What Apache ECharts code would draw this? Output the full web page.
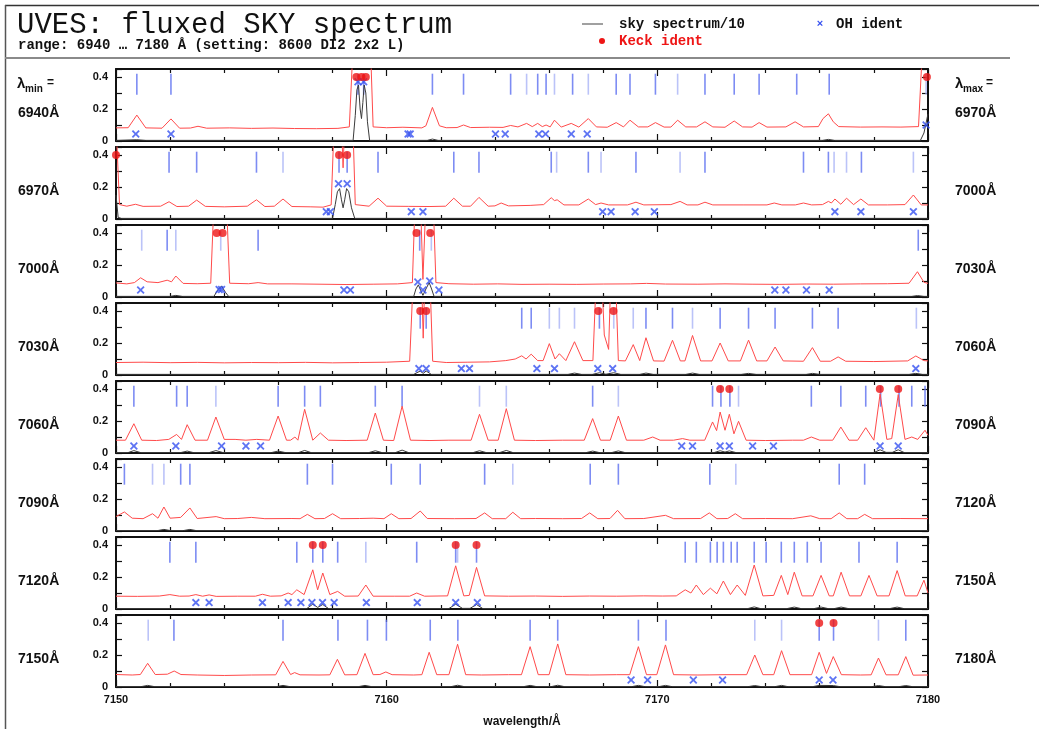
<!DOCTYPE html>
<html><head><meta charset="utf-8">
<script src="https://cdn.jsdelivr.net/npm/echarts@6/dist/echarts.min.js"></script>
<style>html,body{margin:0;padding:0;background:#fff}#c{width:1039px;height:729px}</style>
</head><body><div id="c"></div>
<script>
// ---------- data ----------
const lambdaMins = [6940, 6970, 7000, 7030, 7060, 7090, 7120, 7150];
const bottomTickLabels = [7150, 7160, 7170, 7180];
const yTickLabels = ['0', '0.2', '0.4'];

// panel 6940-6970
const red_6940 = [[6940.0,0.082],[6940.45,0.083],[6940.77,0.162],[6941.1,0.082],[6941.7,0.080],[6942.03,0.138],[6942.35,0.080],[6942.75,0.081],[6943.03,0.092],[6943.35,0.080],[6944.2,0.082],[6945.0,0.079],[6945.8,0.081],[6946.6,0.078],[6947.4,0.077],[6948.2,0.079],[6948.62,0.088],[6948.76,0.6],[6949.4,0.6],[6949.5,0.088],[6950.0,0.083],[6950.6,0.086],[6951.3,0.082],[6951.45,0.095],[6951.69,0.21],[6951.95,0.095],[6952.2,0.083],[6952.6,0.084],[6952.84,0.10],[6953.1,0.084],[6953.8,0.086],[6954.3,0.085],[6954.58,0.097],[6954.85,0.088],[6955.17,0.11],[6955.38,0.09],[6955.58,0.11],[6955.75,0.09],[6955.89,0.10],[6956.04,0.088],[6956.2,0.13],[6956.45,0.087],[6956.82,0.11],[6957.1,0.087],[6957.45,0.14],[6957.75,0.088],[6958.15,0.086],[6958.48,0.115],[6958.75,0.088],[6958.99,0.13],[6959.3,0.088],[6959.65,0.088],[6959.93,0.115],[6960.25,0.087],[6960.5,0.087],[6960.75,0.13],[6961.05,0.088],[6961.45,0.088],[6961.76,0.12],[6962.05,0.088],[6962.5,0.086],[6962.84,0.125],[6963.15,0.088],[6963.5,0.087],[6963.76,0.115],[6964.05,0.087],[6964.75,0.088],[6965.09,0.12],[6965.4,0.088],[6965.95,0.09],[6966.12,0.14],[6966.32,0.17],[6966.5,0.12],[6966.7,0.09],[6967.5,0.087],[6968.3,0.088],[6969.0,0.087],[6969.65,0.09],[6969.8,0.6],[6970.0,0.6]];
const black_6940 = [[6940.0,0.004],[6940.77,0.008],[6941.1,0.004],[6948.76,0.004],[6948.84,0.16],[6948.9,0.32],[6948.96,0.35],[6949.02,0.2],[6949.07,0.14],[6949.12,0.24],[6949.17,0.35],[6949.23,0.3],[6949.29,0.12],[6949.37,0.004],[6951.5,0.004],[6951.69,0.012],[6951.9,0.004],[6966.1,0.004],[6966.32,0.01],[6966.55,0.004],[6969.72,0.004],[6969.85,0.05],[6970.0,0.17]];
const ticksDark_6940 = [6940.77,6942.03,6948.94,6949.15,6951.69,6952.84,6954.58,6955.58,6955.89,6956.87,6958.48,6958.99,6959.93,6961.76,6962.84,6963.76,6965.15,6966.35];
const ticksLight_6940 = [6955.17,6956.2,6957.45,6960.75,6969.93];
const oh_6940 = [[6940.73,0.044],[6942.03,0.044],[6948.94,0.37],[6949.15,0.37],[6950.79,0.044],[6950.87,0.044],[6954.02,0.044],[6954.38,0.044],[6955.62,0.044],[6955.87,0.044],[6956.82,0.044],[6957.41,0.044],[6969.93,0.1]];
const keck_6940 = [6948.88,6949.07,6949.23,6969.96];

// panel 6970-7000
const red_6970 = [[6970.0,0.6],[6970.07,0.6],[6970.13,0.09],[6970.4,0.08],[6970.72,0.092],[6971.0,0.079],[6971.65,0.08],[6971.96,0.108],[6972.25,0.078],[6972.68,0.08],[6972.98,0.118],[6973.3,0.079],[6974.0,0.076],[6974.85,0.08],[6975.19,0.12],[6975.5,0.078],[6975.85,0.08],[6976.17,0.125],[6976.5,0.078],[6977.2,0.076],[6977.65,0.074],[6977.95,0.088],[6978.06,0.6],[6978.33,0.6],[6978.39,0.32],[6978.45,0.6],[6978.75,0.6],[6978.84,0.09],[6979.35,0.08],[6979.68,0.13],[6980.0,0.08],[6980.8,0.079],[6981.6,0.078],[6982.18,0.08],[6982.48,0.13],[6982.8,0.08],[6983.1,0.08],[6983.41,0.135],[6983.75,0.08],[6984.0,0.082],[6984.23,0.1],[6984.5,0.082],[6985.3,0.085],[6985.8,0.09],[6986.08,0.133],[6986.2,0.115],[6986.3,0.12],[6986.55,0.088],[6987.1,0.088],[6987.45,0.125],[6987.72,0.09],[6987.92,0.1],[6988.2,0.088],[6988.9,0.088],[6989.21,0.105],[6989.5,0.088],[6990.5,0.09],[6990.84,0.11],[6991.1,0.088],[6991.5,0.088],[6991.76,0.105],[6992.05,0.088],[6993.2,0.088],[6994.05,0.088],[6994.32,0.1],[6994.6,0.088],[6995.1,0.088],[6995.4,0.1],[6995.7,0.088],[6996.1,0.09],[6996.32,0.11],[6996.43,0.1],[6996.56,0.125],[6996.78,0.092],[6996.99,0.13],[6997.25,0.09],[6997.52,0.125],[6997.8,0.088],[6998.5,0.088],[6999.15,0.09],[6999.46,0.15],[6999.75,0.088],[7000.0,0.088]];
const black_6970 = [[6970.0,0.15],[6970.08,0.01],[6970.2,0.004],[6978.0,0.004],[6978.1,0.09],[6978.18,0.17],[6978.26,0.19],[6978.33,0.12],[6978.39,0.07],[6978.45,0.12],[6978.52,0.19],[6978.6,0.17],[6978.7,0.07],[6978.82,0.004],[7000.0,0.004]];
const ticksDark_6970 = [6971.96,6972.98,6975.19,6978.24,6978.54,6979.68,6982.48,6983.41,6986.08,6987.45,6989.21,6991.76,6995.4,6996.32,6997.54];
const ticksLight_6970 = [6976.17,6986.28,6987.92,6990.84,6996.53,6996.99,6999.46];
const oh_6970 = [[6977.77,0.046],[6977.92,0.046],[6978.22,0.22],[6978.54,0.22],[6980.91,0.046],[6981.34,0.046],[6987.98,0.046],[6988.29,0.046],[6989.18,0.046],[6989.89,0.046],[6996.56,0.046],[6997.52,0.046],[6999.46,0.046]];
const keck_6970 = [6970.0,6978.24,6978.54];

// panel 7000-7030
const red_7000 = [[7000.0,0.088],[7000.4,0.082],[7000.68,0.09],[7000.91,0.12],[7001.15,0.095],[7001.55,0.09],[7001.89,0.105],[7002.05,0.095],[7002.21,0.131],[7002.48,0.085],[7003.0,0.083],[7003.5,0.086],[7003.62,0.6],[7004.08,0.6],[7004.2,0.086],[7004.9,0.083],[7005.25,0.09],[7005.6,0.082],[7006.5,0.082],[7007.5,0.08],[7008.5,0.078],[7009.5,0.08],[7010.4,0.082],[7010.95,0.09],[7011.05,0.6],[7011.25,0.6],[7011.34,0.11],[7011.45,0.6],[7011.72,0.6],[7011.82,0.09],[7012.3,0.083],[7013.2,0.08],[7014.1,0.082],[7015.0,0.079],[7016.0,0.08],[7017.0,0.079],[7018.0,0.081],[7019.0,0.082],[7019.6,0.085],[7020.3,0.081],[7021.5,0.08],[7022.5,0.082],[7023.5,0.08],[7024.5,0.079],[7025.5,0.081],[7026.5,0.08],[7027.5,0.082],[7028.5,0.083],[7029.3,0.086],[7029.61,0.158],[7029.85,0.092],[7030.0,0.085]];
const black_7000 = [[7000.0,0.004],[7002.0,0.004],[7002.21,0.01],[7002.45,0.004],[7003.62,0.004],[7003.76,0.045],[7003.9,0.069],[7004.04,0.03],[7004.16,0.004],[7011.0,0.004],[7011.08,0.05],[7011.17,0.076],[7011.26,0.04],[7011.34,0.01],[7011.45,0.05],[7011.57,0.09],[7011.66,0.05],[7011.75,0.004],[7029.4,0.004],[7029.61,0.009],[7029.85,0.004],[7030.0,0.004]];
const ticksDark_7000 = [7001.89,7005.25,7011.22,7029.64];
const ticksLight_7000 = [7000.95,7002.21,7003.87,7011.65];
const oh_7000 = [[7000.91,0.044],[7003.81,0.047],[7003.9,0.047],[7008.42,0.044],[7008.66,0.044],[7011.15,0.094],[7011.34,0.044],[7011.59,0.1],[7011.93,0.044],[7024.34,0.044],[7024.75,0.044],[7025.51,0.044],[7026.35,0.044]];
const keck_7000 = [7003.72,7003.94,7011.1,7011.61];

// panel 7030-7060
const red_7030 = [[7030.0,0.078],[7031.0,0.08],[7032.0,0.077],[7033.0,0.079],[7034.0,0.076],[7035.0,0.078],[7036.0,0.077],[7037.0,0.079],[7038.0,0.076],[7039.0,0.078],[7040.0,0.08],[7040.85,0.086],[7040.98,0.6],[7041.29,0.6],[7041.35,0.23],[7041.41,0.6],[7041.6,0.6],[7041.7,0.086],[7042.2,0.078],[7043.0,0.08],[7043.8,0.082],[7044.4,0.09],[7044.75,0.1],[7044.99,0.12],[7045.15,0.1],[7045.34,0.13],[7045.58,0.09],[7045.78,0.09],[7046.01,0.196],[7046.22,0.1],[7046.38,0.133],[7046.62,0.09],[7046.94,0.208],[7047.25,0.09],[7047.62,0.09],[7047.74,0.6],[7047.95,0.6],[7048.04,0.25],[7048.2,0.16],[7048.28,0.6],[7048.46,0.6],[7048.56,0.09],[7048.82,0.088],[7049.11,0.19],[7049.35,0.09],[7049.58,0.233],[7049.86,0.088],[7050.25,0.087],[7050.56,0.217],[7050.85,0.088],[7051.02,0.088],[7051.3,0.247],[7051.6,0.088],[7052.02,0.088],[7052.32,0.2],[7052.62,0.088],[7053.07,0.088],[7053.37,0.218],[7053.67,0.088],[7054.05,0.088],[7054.35,0.175],[7054.65,0.088],[7055.4,0.086],[7055.73,0.171],[7056.02,0.086],[7056.4,0.086],[7056.68,0.113],[7056.96,0.086],[7058.0,0.084],[7059.25,0.088],[7059.55,0.119],[7059.85,0.09],[7060.0,0.088]];
const black_7030 = [[7030.0,0.004],[7041.0,0.004],[7041.24,0.025],[7041.35,0.01],[7041.46,0.025],[7041.65,0.004],[7046.7,0.004],[7046.94,0.012],[7047.2,0.004],[7047.6,0.004],[7047.86,0.014],[7048.1,0.005],[7048.39,0.014],[7048.65,0.004],[7049.35,0.004],[7049.58,0.012],[7049.85,0.004],[7051.05,0.004],[7051.3,0.012],[7051.55,0.004],[7053.1,0.004],[7053.37,0.01],[7053.65,0.004],[7055.5,0.004],[7055.73,0.01],[7056.0,0.004],[7059.3,0.004],[7059.55,0.01],[7059.8,0.004],[7060.0,0.004]];
const ticksDark_7030 = [7041.24,7041.46,7044.99,7045.34,7047.86,7049.58,7050.56,7052.32,7053.37,7054.35,7055.73,7056.68];
const ticksLight_7030 = [7046.01,7046.38,7046.94,7048.39,7049.11,7051.3,7059.57];
const oh_7030 = [[7041.19,0.04],[7041.46,0.04],[7042.76,0.04],[7043.06,0.04],[7045.55,0.04],[7046.2,0.04],[7047.8,0.04],[7048.35,0.04],[7059.55,0.04]];
const keck_7030 = [7041.24,7041.46,7047.82,7048.38];

// panel 7060-7090
const red_7060 = [[7060.0,0.08],[7060.35,0.08],[7060.66,0.183],[7060.95,0.08],[7061.5,0.078],[7061.95,0.085],[7062.24,0.116],[7062.42,0.085],[7062.63,0.177],[7062.92,0.08],[7063.38,0.08],[7063.69,0.225],[7064.0,0.085],[7064.4,0.085],[7064.8,0.08],[7065.2,0.085],[7065.67,0.08],[7065.99,0.231],[7066.3,0.08],[7066.45,0.08],[7066.61,0.1],[7066.72,0.08],[7066.97,0.273],[7067.27,0.08],[7067.55,0.125],[7067.85,0.08],[7068.5,0.078],[7069.28,0.08],[7069.58,0.25],[7069.88,0.08],[7070.26,0.078],[7070.57,0.292],[7070.88,0.08],[7071.6,0.078],[7072.3,0.08],[7073.12,0.08],[7073.43,0.242],[7073.75,0.08],[7074.12,0.08],[7074.42,0.277],[7074.72,0.08],[7075.5,0.078],[7076.5,0.08],[7077.3,0.08],[7077.61,0.215],[7077.9,0.08],[7078.26,0.08],[7078.56,0.231],[7078.86,0.08],[7079.5,0.08],[7079.83,0.1],[7080.1,0.08],[7080.6,0.08],[7080.93,0.09],[7081.2,0.08],[7081.75,0.08],[7082.04,0.194],[7082.19,0.14],[7082.32,0.256],[7082.5,0.142],[7082.66,0.242],[7082.83,0.12],[7083.0,0.198],[7083.28,0.08],[7084.0,0.078],[7085.0,0.08],[7085.4,0.08],[7085.69,0.1],[7086.0,0.08],[7086.48,0.08],[7086.78,0.162],[7087.08,0.08],[7087.4,0.08],[7087.7,0.158],[7088.0,0.08],[7088.23,0.37],[7088.48,0.085],[7088.66,0.09],[7088.9,0.365],[7089.15,0.085],[7089.4,0.1],[7089.62,0.085],[7089.89,0.142],[7090.0,0.11]];
const black_7060 = [[7060.0,0.003],[7060.45,0.003],[7060.66,0.015],[7060.9,0.003],[7062.4,0.003],[7062.63,0.012],[7062.85,0.003],[7063.45,0.003],[7063.69,0.015],[7063.95,0.003],[7065.75,0.003],[7065.99,0.012],[7066.25,0.003],[7066.75,0.003],[7066.97,0.016],[7067.2,0.003],[7069.35,0.003],[7069.58,0.014],[7069.82,0.003],[7070.33,0.003],[7070.57,0.018],[7070.8,0.003],[7073.2,0.003],[7073.43,0.014],[7073.67,0.003],[7074.18,0.003],[7074.42,0.016],[7074.66,0.003],[7077.38,0.003],[7077.61,0.012],[7077.85,0.003],[7078.32,0.003],[7078.56,0.013],[7078.8,0.003],[7082.1,0.003],[7082.32,0.014],[7082.5,0.006],[7082.66,0.013],[7082.9,0.003],[7088.0,0.003],[7088.23,0.02],[7088.45,0.004],[7088.68,0.004],[7088.9,0.02],[7089.12,0.003],[7090.0,0.003]];
const ticksDark_7060 = [7060.66,7062.24,7062.63,7065.99,7066.97,7067.55,7069.58,7070.57,7077.61,7082.04,7082.35,7082.68,7085.69,7086.78,7087.7,7088.25,7088.93,7089.4,7089.89];
const ticksLight_7060 = [7063.69,7073.43,7074.42,7078.56,7083.0];
const oh_7060 = [[7060.66,0.044],[7062.21,0.044],[7063.9,0.044],[7064.8,0.044],[7065.34,0.044],[7080.9,0.044],[7081.3,0.044],[7082.32,0.044],[7082.66,0.044],[7083.52,0.044],[7084.29,0.044],[7088.23,0.044],[7088.9,0.044]];
const keck_7060 = [7082.32,7082.66,7088.22,7088.9];

// panel 7090-7120
const red_7090 = [[7090.0,0.09],[7090.31,0.119],[7090.6,0.08],[7091.0,0.077],[7091.35,0.108],[7091.55,0.08],[7091.77,0.15],[7092.0,0.08],[7092.39,0.085],[7092.73,0.144],[7093.0,0.078],[7093.7,0.09],[7094.0,0.077],[7094.5,0.078],[7095.0,0.085],[7095.5,0.077],[7096.5,0.078],[7096.8,0.077],[7097.07,0.104],[7097.35,0.077],[7097.7,0.078],[7098.0,0.108],[7098.3,0.077],[7099.0,0.078],[7099.5,0.08],[7099.9,0.077],[7100.17,0.108],[7100.45,0.077],[7100.9,0.078],[7101.24,0.125],[7101.5,0.078],[7102.5,0.077],[7103.3,0.078],[7103.62,0.113],[7103.9,0.077],[7104.4,0.077],[7104.66,0.117],[7104.95,0.077],[7105.5,0.078],[7106.5,0.077],[7107.2,0.078],[7107.5,0.113],[7107.8,0.077],[7108.25,0.078],[7108.53,0.129],[7108.8,0.077],[7109.5,0.078],[7110.3,0.098],[7110.6,0.077],[7111.6,0.078],[7111.92,0.113],[7112.2,0.077],[7112.6,0.078],[7112.88,0.108],[7113.15,0.077],[7114.0,0.078],[7115.0,0.077],[7115.67,0.095],[7116.0,0.077],[7116.42,0.077],[7116.72,0.113],[7117.0,0.077],[7117.4,0.077],[7117.66,0.104],[7117.95,0.077],[7119.0,0.078],[7120.0,0.077]];
const black_7090 = [[7090.0,0.003],[7091.55,0.003],[7091.77,0.01],[7092.0,0.003],[7092.5,0.003],[7092.73,0.01],[7092.95,0.003],[7120.0,0.003]];
const ticksDark_7090 = [7090.31,7092.39,7092.73,7097.07,7098.0,7100.17,7101.24,7103.62,7107.52,7108.56,7111.94,7116.72,7117.66];
const ticksLight_7090 = [7091.35,7091.77,7104.66,7112.9];
const oh_7090 = [];
const keck_7090 = [];

// panel 7120-7150
const red_7120 = [[7120.0,0.08],[7120.8,0.079],[7121.6,0.081],[7121.99,0.09],[7122.35,0.08],[7122.7,0.081],[7122.95,0.09],[7123.2,0.08],[7123.44,0.088],[7123.7,0.079],[7124.5,0.08],[7125.15,0.08],[7125.41,0.092],[7125.7,0.08],[7126.1,0.082],[7126.36,0.1],[7126.5,0.09],[7126.68,0.12],[7126.95,0.09],[7127.27,0.245],[7127.45,0.12],[7127.64,0.225],[7127.9,0.09],[7128.19,0.11],[7128.45,0.08],[7128.95,0.081],[7129.23,0.15],[7129.5,0.08],[7130.3,0.08],[7130.85,0.08],[7131.11,0.1],[7131.4,0.08],[7132.25,0.082],[7132.55,0.27],[7132.85,0.082],[7133.05,0.085],[7133.32,0.26],[7133.62,0.082],[7134.5,0.08],[7135.5,0.081],[7136.5,0.079],[7137.5,0.081],[7138.5,0.08],[7139.5,0.082],[7140.2,0.081],[7140.7,0.082],[7141.03,0.12],[7141.24,0.1],[7141.44,0.15],[7141.7,0.09],[7141.96,0.13],[7142.2,0.095],[7142.44,0.175],[7142.7,0.09],[7142.95,0.15],[7143.25,0.085],[7143.58,0.275],[7143.9,0.082],[7144.3,0.085],[7144.58,0.21],[7144.82,0.09],[7145.06,0.23],[7145.35,0.082],[7145.75,0.082],[7146.05,0.21],[7146.35,0.082],[7146.5,0.082],[7146.79,0.23],[7147.1,0.082],[7147.52,0.082],[7147.82,0.21],[7148.12,0.082],[7148.56,0.082],[7148.86,0.24],[7149.16,0.082],[7149.6,0.082],[7149.85,0.18],[7150.0,0.1]];
const black_7120 = [[7120.0,0.003],[7127.05,0.003],[7127.27,0.03],[7127.45,0.01],[7127.64,0.028],[7127.85,0.003],[7132.3,0.003],[7132.55,0.03],[7132.8,0.004],[7133.08,0.004],[7133.32,0.028],[7133.55,0.003],[7143.35,0.003],[7143.58,0.013],[7143.8,0.003],[7144.8,0.003],[7145.06,0.012],[7145.3,0.003],[7145.8,0.003],[7146.05,0.012],[7146.3,0.003],[7146.55,0.003],[7146.79,0.012],[7147.05,0.003],[7148.6,0.003],[7148.86,0.012],[7149.1,0.003],[7150.0,0.003]];
const ticksDark_7120 = [7121.99,7122.95,7126.68,7127.27,7127.64,7128.19,7131.11,7132.55,7133.32,7141.03,7141.44,7141.96,7142.21,7142.44,7142.73,7142.95,7143.58,7144.02,7144.58,7145.06,7145.54,7146.05,7147.45,7148.86];
const ticksLight_7120 = [7129.23,7132.62];
const oh_7120 = [[7122.95,0.04],[7123.44,0.04],[7125.41,0.04],[7126.36,0.04],[7126.83,0.04],[7127.24,0.04],[7127.63,0.04],[7128.06,0.04],[7129.25,0.04],[7131.13,0.04],[7132.55,0.04],[7133.35,0.04]];
const keck_7120 = [7127.27,7127.64,7132.55,7133.32];

// panel 7150-7180
const red_7150 = [[7150.0,0.078],[7150.6,0.075],[7150.9,0.078],[7151.17,0.148],[7151.45,0.078],[7151.9,0.08],[7152.15,0.1],[7152.4,0.078],[7153.0,0.075],[7154.0,0.072],[7155.0,0.075],[7155.9,0.076],[7156.17,0.16],[7156.45,0.078],[7156.6,0.09],[7156.8,0.076],[7157.5,0.075],[7157.9,0.076],[7158.18,0.173],[7158.45,0.076],[7158.9,0.077],[7159.2,0.21],[7159.5,0.077],[7159.75,0.078],[7159.97,0.094],[7160.2,0.077],[7161.0,0.075],[7161.3,0.077],[7161.57,0.217],[7161.85,0.077],[7162.3,0.077],[7162.62,0.267],[7162.92,0.077],[7163.5,0.075],[7164.5,0.077],[7164.98,0.077],[7165.3,0.252],[7165.6,0.077],[7166.0,0.077],[7166.32,0.269],[7166.62,0.077],[7167.5,0.075],[7168.5,0.077],[7168.98,0.077],[7169.3,0.252],[7169.6,0.077],[7169.98,0.077],[7170.3,0.263],[7170.6,0.077],[7171.5,0.075],[7172.5,0.077],[7173.3,0.077],[7173.6,0.2],[7173.9,0.077],[7174.3,0.077],[7174.59,0.227],[7174.9,0.077],[7175.7,0.077],[7175.98,0.217],[7176.25,0.085],[7176.5,0.19],[7176.8,0.077],[7177.5,0.075],[7177.9,0.076],[7178.17,0.181],[7178.45,0.076],[7178.9,0.076],[7179.18,0.19],[7179.45,0.074],[7180.0,0.075]];
const black_7150 = [[7150.0,0.003],[7150.95,0.003],[7151.17,0.01],[7151.4,0.003],[7155.95,0.003],[7156.17,0.01],[7156.4,0.003],[7158.98,0.003],[7159.2,0.01],[7159.42,0.003],[7162.4,0.003],[7162.62,0.011],[7162.85,0.003],[7165.08,0.003],[7165.3,0.01],[7165.52,0.003],[7166.1,0.003],[7166.32,0.011],[7166.55,0.003],[7169.08,0.003],[7169.3,0.01],[7169.52,0.003],[7170.08,0.003],[7170.3,0.01],[7170.52,0.003],[7173.38,0.003],[7173.6,0.009],[7173.82,0.003],[7174.37,0.003],[7174.59,0.01],[7174.8,0.003],[7175.76,0.003],[7175.98,0.01],[7176.5,0.009],[7176.72,0.003],[7177.95,0.003],[7178.17,0.009],[7178.4,0.003],[7178.96,0.003],[7179.18,0.009],[7179.4,0.003],[7180.0,0.003]];
const ticksDark_7150 = [7152.14,7156.17,7158.2,7159.29,7159.99,7161.61,7162.63,7165.3,7166.32,7169.3,7170.32,7175.98,7176.51,7179.18];
const ticksLight_7150 = [7151.19,7173.6,7174.59,7178.17];
const oh_7150 = [[7169.03,0.044],[7169.64,0.044],[7171.33,0.044],[7172.41,0.044],[7175.98,0.044],[7176.49,0.044]];
const keck_7150 = [7175.98,7176.51];

const panels = [
  {lmin: 6940, red: red_6940, black: black_6940, dark: ticksDark_6940, light: ticksLight_6940, oh: oh_6940, keck: keck_6940},
  {lmin: 6970, red: red_6970, black: black_6970, dark: ticksDark_6970, light: ticksLight_6970, oh: oh_6970, keck: keck_6970},
  {lmin: 7000, red: red_7000, black: black_7000, dark: ticksDark_7000, light: ticksLight_7000, oh: oh_7000, keck: keck_7000},
  {lmin: 7030, red: red_7030, black: black_7030, dark: ticksDark_7030, light: ticksLight_7030, oh: oh_7030, keck: keck_7030},
  {lmin: 7060, red: red_7060, black: black_7060, dark: ticksDark_7060, light: ticksLight_7060, oh: oh_7060, keck: keck_7060},
  {lmin: 7090, red: red_7090, black: black_7090, dark: ticksDark_7090, light: ticksLight_7090, oh: oh_7090, keck: keck_7090},
  {lmin: 7120, red: red_7120, black: black_7120, dark: ticksDark_7120, light: ticksLight_7120, oh: oh_7120, keck: keck_7120},
  {lmin: 7150, red: red_7150, black: black_7150, dark: ticksDark_7150, light: ticksLight_7150, oh: oh_7150, keck: keck_7150}
];

// ---------- layout / style ----------
const SPAN = 30, YMAX = 0.45, TICK_Y = 0.355, KECK_Y = 0.4;
const G_LEFT = 116, G_W = 812, G_TOP = 69, G_STEP = 78, G_H = 72;
const LABEL_FONT = 'Liberation Sans, Arial, sans-serif';
const MONO = 'Liberation Mono, Courier New, monospace';
const X_SYMBOL = 'path://M0,1.6L1.6,0L5,3.4L8.4,0L10,1.6L6.6,5L10,8.4L8.4,10L5,6.6L1.6,10L0,8.4L3.4,5Z';

const chart = echarts.init(document.getElementById('c'), null, {renderer: 'canvas'});
const grids = [], xAxes = [], yAxes = [], series = [];
const axisLine = {show: true, onZero: false, lineStyle: {color: '#111', width: 2}};

panels.forEach((p, i) => {
  const last = i === panels.length - 1;
  grids.push({left: G_LEFT, width: G_W, top: G_TOP + G_STEP * i, height: G_H, containLabel: false});
  const xBase = {
    type: 'value', gridIndex: i, min: p.lmin, max: p.lmin + SPAN, interval: 10,
    axisLine: axisLine, splitLine: {show: false},
    axisTick: {show: true, inside: true, length: 7, lineStyle: {color: '#111', width: 1.2}},
    minorTick: {show: true, splitNumber: 5, length: 4, lineStyle: {color: '#111', width: 1.2}}
  };
  xAxes.push(Object.assign({}, xBase, {
    position: 'bottom',
    axisLabel: {show: last, margin: 7, color: '#111', fontFamily: LABEL_FONT, fontWeight: 'bold', fontSize: 11,
      formatter: v => bottomTickLabels.indexOf(Math.round(v)) >= 0 ? String(Math.round(v)) : ''},
    name: last ? 'wavelength/Å' : '', nameLocation: 'middle', nameGap: 29,
    nameTextStyle: {color: '#111', fontFamily: LABEL_FONT, fontWeight: 'bold', fontSize: 12}
  }));
  xAxes.push(Object.assign({}, xBase, {position: 'top', axisLabel: {show: false}}));
  const yBase = {
    type: 'value', gridIndex: i, min: 0, max: YMAX, interval: 0.1,
    axisLine: axisLine, splitLine: {show: false},
    axisTick: {show: true, inside: true, length: 6, lineStyle: {color: '#111', width: 1.2}}
  };
  yAxes.push(Object.assign({}, yBase, {
    position: 'left',
    axisLabel: {show: true, margin: 8, color: '#111', fontFamily: LABEL_FONT, fontWeight: 'bold', fontSize: 11,
      formatter: v => { const s = String(Math.round(v * 10) / 10); return yTickLabels.indexOf(s) >= 0 && Math.abs(v * 10 - Math.round(v * 10)) < 1e-6 ? s : ''; }}
  }));
  yAxes.push(Object.assign({}, yBase, {position: 'right', axisLabel: {show: false}}));

  const xi = 2 * i, yi = 2 * i;
  series.push({type: 'scatter', xAxisIndex: xi, yAxisIndex: yi, silent: true, symbol: 'rect', symbolSize: [1.6, 21],
    itemStyle: {color: '#aab4f6'}, data: p.light.map(l => [l, TICK_Y]), z: 1});
  series.push({type: 'scatter', xAxisIndex: xi, yAxisIndex: yi, silent: true, symbol: 'rect', symbolSize: [1.6, 21],
    itemStyle: {color: '#5d6ff0'}, data: p.dark.map(l => [l, TICK_Y]), z: 1});
  series.push({type: 'line', xAxisIndex: xi, yAxisIndex: yi, silent: true, showSymbol: false, clip: true,
    smooth: false, lineStyle: {color: '#3a3a3a', width: 1}, data: p.black, z: 2});
  series.push({type: 'line', xAxisIndex: xi, yAxisIndex: yi, silent: true, showSymbol: false, clip: true,
    smooth: false, lineStyle: {color: '#ff4a4a', width: 1}, data: p.red, z: 3});
  series.push({type: 'scatter', xAxisIndex: xi, yAxisIndex: yi, silent: true, symbol: X_SYMBOL, symbolSize: 8,
    itemStyle: {color: '#3550f0'}, data: p.oh, z: 4});
  series.push({type: 'scatter', xAxisIndex: xi, yAxisIndex: yi, silent: true, symbol: 'circle', symbolSize: 8,
    itemStyle: {color: '#ee1515'}, data: p.keck.map(l => [l, KECK_Y]), z: 5});
});

// side labels and header
const graphics = [];
const boldLbl = (x, y, text, size, align) => ({type: 'text', x: x, y: y, silent: true,
  style: {text: text, fill: '#111', font: 'bold ' + size + 'px ' + LABEL_FONT, align: align || 'left', verticalAlign: 'middle'}});
panels.forEach((p, i) => {
  const cy = G_TOP + G_STEP * i + 44;
  graphics.push(boldLbl(18, cy, p.lmin + 'Å', 14));
  graphics.push(boldLbl(955, cy, (p.lmin + SPAN) + 'Å', 14));
});
// λmin= / λmax=
[[17, 'min'], [955, 'max']].forEach(([x, sub]) => {
  graphics.push(boldLbl(x, 84, 'λ', 15));
  graphics.push(boldLbl(x + 8, 89, sub, 10));
  graphics.push(boldLbl(x + 8 + (sub === 'min' ? 22 : 23), 83, '=', 12));
});
graphics.push(
  {type: 'line', silent: true, shape: {x1: 5, y1: 5.5, x2: 1039, y2: 5.5}, style: {stroke: '#333', lineWidth: 1.5}},
  {type: 'line', silent: true, shape: {x1: 5.5, y1: 5, x2: 5.5, y2: 729}, style: {stroke: '#555', lineWidth: 1.5}},
  {type: 'line', silent: true, shape: {x1: 5, y1: 58, x2: 1010, y2: 58}, style: {stroke: '#8a8a8a', lineWidth: 2}},
  {type: 'text', x: 17, y: 25, silent: true, style: {text: 'UVES: fluxed SKY spectrum', fill: '#111', font: '29px ' + MONO, verticalAlign: 'middle'}},
  {type: 'text', x: 18, y: 45, silent: true, style: {text: 'range: 6940 … 7180 Å (setting: 8600 DI2 2x2 L)', fill: '#111', font: 'bold 14px ' + MONO, verticalAlign: 'middle'}},
  {type: 'line', silent: true, shape: {x1: 582, y1: 24, x2: 603, y2: 24}, style: {stroke: '#a0a0a0', lineWidth: 2}},
  {type: 'text', x: 619, y: 24, silent: true, style: {text: 'sky spectrum/10', fill: '#111', font: 'bold 14px ' + MONO, verticalAlign: 'middle'}},
  {type: 'text', x: 820, y: 24, silent: true, style: {text: '×', fill: '#3550f0', font: 'bold 11px ' + LABEL_FONT, align: 'center', verticalAlign: 'middle'}},
  {type: 'text', x: 836, y: 24, silent: true, style: {text: 'OH ident', fill: '#111', font: 'bold 14px ' + MONO, verticalAlign: 'middle'}},
  {type: 'circle', silent: true, shape: {cx: 602, cy: 41, r: 3}, style: {fill: '#ee1515'}},
  {type: 'text', x: 619, y: 41, silent: true, style: {text: 'Keck ident', fill: '#ee1515', font: 'bold 14px ' + MONO, verticalAlign: 'middle'}}
);

chart.setOption({
  animation: false, backgroundColor: '#fff',
  grid: grids, xAxis: xAxes, yAxis: yAxes, series: series, graphic: graphics
});
</script></body></html>
